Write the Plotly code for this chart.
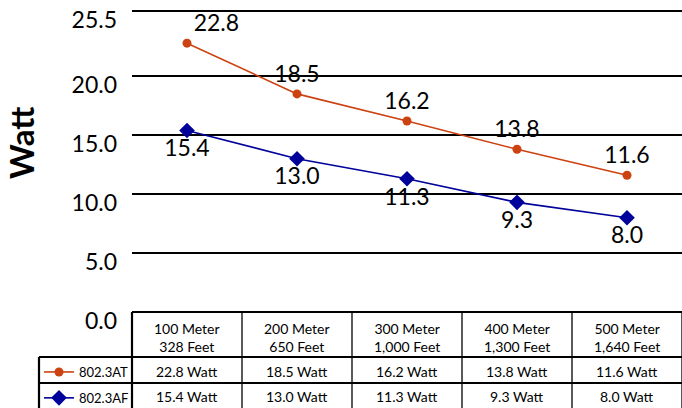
import plotly.graph_objects as go

# ---- data ----
distances_m = ["100 Meter", "200 Meter", "300 Meter", "400 Meter", "500 Meter"]
distances_ft = ["328 Feet", "650 Feet", "1,000 Feet", "1,300 Feet", "1,640 Feet"]
at_values = [22.8, 18.5, 16.2, 13.8, 11.6]
af_values = [15.4, 13.0, 11.3, 9.3, 8.0]
series_names = ["802.3AT", "802.3AF"]
y_tick_vals = [0, 5, 10, 15, 20, 25.5]
y_tick_text = ["0.0", "5.0", "10.0", "15.0", "20.0", "25.5"]
y_title = "Watt"

# ---- styling / layout ----
W, H = 682, 408
ML, MR, MT, MB = 132, 0, 9, 96
PW, PH = W - ML - MR, H - MT - MB
FONT = "Lato"
C_AT = "#CC4210"
C_AF = "#00009A"


def ypx(py):
    return (H - MB - py) / PH


def xpx(px):
    return (px - ML) / PW


fig = go.Figure()
fig.add_trace(go.Scatter(
    x=distances_m, y=at_values, name=series_names[0], legendgroup="a",
    mode="lines+markers+text",
    line=dict(color=C_AT, width=1.6),
    marker=dict(symbol="circle", size=9, color=C_AT),
    texttemplate="%{y:.1f}",
    textposition=["top right"] + ["top center"] * 4,
    textfont=dict(family=FONT, size=23, color="#000"),
    cliponaxis=False,
))
fig.add_trace(go.Scatter(
    x=distances_m, y=af_values, name=series_names[1], legendgroup="b",
    mode="lines+markers+text",
    line=dict(color=C_AF, width=1.6),
    marker=dict(symbol="diamond", size=12, color=C_AF),
    texttemplate="%{y:.1f}",
    textposition="bottom center",
    textfont=dict(family=FONT, size=23, color="#000"),
    cliponaxis=False,
))

shapes = []
line_thick = dict(color="#000", width=2.2)
line_thin = dict(color="#000", width=1.3)
# table top (x axis line)
shapes.append(dict(type="line", xref="paper", yref="paper", x0=0, x1=1.02,
                   y0=ypx(312), y1=ypx(312), line=line_thick))
# horizontal row lines
for py in (357, 383):
    shapes.append(dict(type="line", xref="paper", yref="paper", x0=xpx(39), x1=1.02,
                       y0=ypx(py), y1=ypx(py), line=line_thick))
# legend column left border
shapes.append(dict(type="line", xref="paper", yref="paper", x0=xpx(39), x1=xpx(39),
                   y0=ypx(357), y1=ypx(412), line=line_thick))
# column boundaries
n = len(distances_m)
for i in range(n + 1):
    shapes.append(dict(type="line", xref="paper", yref="paper", x0=i / n, x1=i / n,
                       y0=ypx(312), y1=ypx(412), line=line_thick if i == 0 else line_thin))

annotations = []
cell_font = dict(family=FONT, size=14, color="#000")
for i, (m, ft) in enumerate(zip(distances_m, distances_ft)):
    annotations.append(dict(x=m, xref="x", y=ypx(337), yref="paper",
                            xanchor="center", yanchor="middle",
                            text=f"{m}<br>{ft}", showarrow=False, font=cell_font))
    annotations.append(dict(x=m, xref="x", y=ypx(371), yref="paper",
                            xanchor="center", yanchor="middle",
                            text=f"{at_values[i]:.1f} Watt", showarrow=False, font=cell_font))
    annotations.append(dict(x=m, xref="x", y=ypx(396), yref="paper",
                            xanchor="center", yanchor="middle",
                            text=f"{af_values[i]:.1f} Watt", showarrow=False, font=cell_font))
annotations.append(dict(x=xpx(21), xref="paper", y=ypx(143), yref="paper",
                        xanchor="center", yanchor="middle",
                        text=f"<b>{y_title}</b>", textangle=-90, showarrow=False,
                        font=dict(family=FONT, size=33, color="#000")))

fig.update_layout(
    width=W, height=H,
    margin=dict(l=ML, r=MR, t=MT, b=MB, pad=0, autoexpand=False),
    paper_bgcolor="white", plot_bgcolor="white",
    font=dict(family=FONT, color="#000"),
    showlegend=True,
    legend=dict(x=xpx(39), y=ypx(357), xanchor="left", yanchor="top",
                bgcolor="rgba(0,0,0,0)", borderwidth=0,
                font=dict(family=FONT, size=13, color="#000"),
                traceorder="grouped", tracegroupgap=6, itemwidth=30),
    xaxis=dict(range=[-0.5, n - 0.5], showticklabels=False, showgrid=False,
               zeroline=False, showline=False, ticks=""),
    yaxis=dict(range=[0, 25.7], tickvals=y_tick_vals, ticktext=y_tick_text,
               showgrid=True, gridcolor="#000", gridwidth=1.8, zeroline=False,
               showline=False, ticks="", ticklabelstandoff=14, ticklabelshift=9,
               tickfont=dict(family=FONT, size=23, color="#000")),
    shapes=shapes,
    annotations=annotations,
)

fig.write_html("out.html", config={"displayModeBar": False},
               post_script="document.body.style.margin='0';")
